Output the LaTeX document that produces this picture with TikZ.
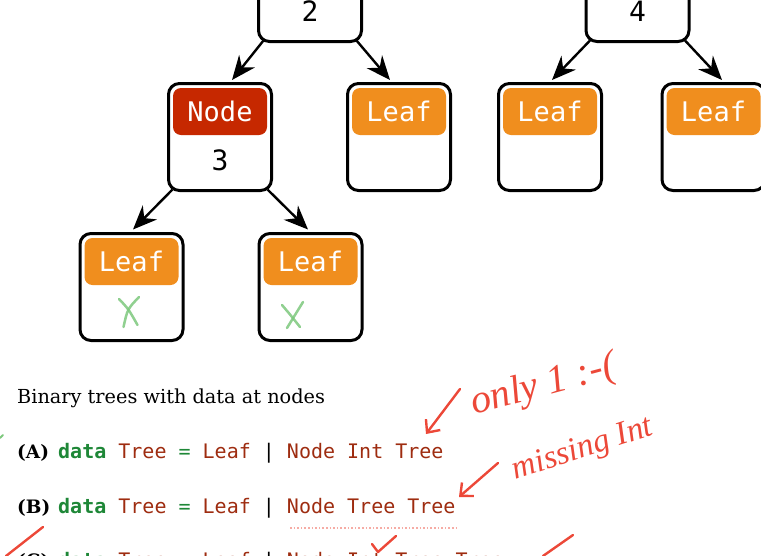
\documentclass[tikz,border=0pt]{standalone}
\usepackage{fontspec}
\setmainfont{DejaVu Serif}
\newfontfamily\boxfont{DejaVu Sans Mono}
\newfontfamily\codefont{DejaVu Sans Mono}
\newfontfamily\handfont{Liberation Serif}
\usetikzlibrary{arrows.meta,calc}

\definecolor{leaforange}{RGB}{240,142,30}
\definecolor{nodered}{RGB}{198,40,0}
\definecolor{kwgreen}{RGB}{30,135,55}
\definecolor{tyred}{RGB}{158,44,16}
\definecolor{annored}{RGB}{236,72,56}
\definecolor{xgreen}{RGB}{125,200,125}

\newcommand\kw[1]{\textcolor{kwgreen}{\textbf{#1}}}
\newcommand\kwop[1]{\textcolor{kwgreen}{#1}}
\newcommand\ty[1]{\textcolor{tyred}{#1}}

\tikzset{
  treebox/.style={draw=black, line width=3pt, rounded corners=11pt,
    minimum width=103pt, minimum height=107pt, inner sep=0pt, outer sep=0pt, fill=white},
  tag/.style={rounded corners=8pt, minimum width=94pt, minimum height=47pt,
    inner sep=0pt, text=white, font=\boxfont\fontsize{27}{27}\selectfont},
  leaftag/.style={tag, fill=leaforange},
  nodetag/.style={tag, fill=nodered},
  num/.style={inner sep=0pt, font=\boxfont\fontsize{28}{28}\selectfont},
  edge/.style={draw=black, line width=2.4pt, -{Stealth[length=24pt,width=20pt,inset=8pt]}},
  xmark/.style={draw=xgreen, line width=2.5pt, line cap=round, opacity=.85},
  caption/.style={anchor=base west, inner sep=0pt, font=\fontsize{19.3}{19.3}\selectfont},
  itemtag/.style={anchor=base west, inner sep=0pt, font=\bfseries\fontsize{18.5}{18.5}\selectfont},
  code/.style={anchor=base west, inner sep=0pt, font=\codefont\fontsize{20}{20}\selectfont},
  annot/.style={draw=annored, line width=2.4pt, line cap=round, line join=round},
  annotarrow/.style={annot, -{Straight Barb[length=10pt,width=18pt,line width=2.4pt]}},
  hand/.style={text=annored, inner sep=0pt, font=\handfont\itshape\fontsize{#1}{#1}\selectfont},
}

\begin{document}
\begin{tikzpicture}[x=1pt, y=-1pt]
\useasboundingbox (0,0) rectangle (761,555);
\clip (0,0) rectangle (761,555);

% ---- tree boxes ----
\node[treebox] (b2)  at (310,-12)   {};
\node[treebox] (b4)  at (637.5,-12) {};
\node[treebox] (n3)  at (220,137)   {};
\node[treebox] (l2r) at (399,137)   {};
\node[treebox] (l4l) at (550,137)   {};
\node[treebox] (l4r) at (713.5,137) {};
\node[treebox] (l3l) at (131.5,287) {};
\node[treebox] (l3r) at (310.5,287) {};

% ---- constructor tags and stored values ----
\node[num] (v2) at ($(b2.center)+(0,23)$) {2};
\node[num] (v4) at ($(b4.center)+(0,23)$) {4};
\node[nodetag] (n3tag) at ($(n3.center)+(0,-25.5)$) {Node};
\node[num] (v3) at ($(n3.center)+(0,23)$) {3};
\node[leaftag] (l2rtag) at ($(l2r.center)+(0,-25.5)$) {Leaf};
\node[leaftag] (l4ltag) at ($(l4l.center)+(0,-25.5)$) {Leaf};
\node[leaftag] (l4rtag) at ($(l4r.center)+(0,-25.5)$) {Leaf};
\node[leaftag] (l3ltag) at ($(l3l.center)+(0,-25.5)$) {Leaf};
\node[leaftag] (l3rtag) at ($(l3r.center)+(0,-25.5)$) {Leaf};

% ---- edges ----
\draw[edge] ($(b2.south west)+(5,-1)$) -- ($(n3.north)+(12,-3.5)$);
\draw[edge] ($(b2.south east)+(-5,-1)$) -- ($(l2r.north)+(-9,-3.5)$);
\draw[edge] ($(b4.south west)+(4,-1)$) -- ($(l4l.north)+(2,-3.5)$);
\draw[edge] ($(b4.south east)+(-4,-1)$) -- ($(l4r.north)+(8.5,-3.5)$);
\draw[edge] ($(n3.south west)+(4,-1)$) -- ($(l3l.north)+(1.5,-4)$);
\draw[edge] ($(n3.south east)+(-4,-1)$) -- ($(l3r.north)+(-2.5,-4)$);

% ---- green crosses in the empty leaves ----
\draw[xmark] ($(l3l.center)+(-12.5,12)$) .. controls ($(l3l.center)+(-3,22)$) .. ($(l3l.center)+(6,38)$);
\draw[xmark] ($(l3l.center)+(7.5,10)$) .. controls ($(l3l.center)+(-4,22)$) .. ($(l3l.center)+(-8,40)$);
\draw[xmark] ($(l3r.center)+(-28.5,18)$) .. controls ($(l3r.center)+(-20,28)$) .. ($(l3r.center)+(-10.5,40)$);
\draw[xmark] ($(l3r.center)+(-7.5,15)$) .. controls ($(l3r.center)+(-15,28)$) .. ($(l3r.center)+(-23.5,41)$);

% ---- text below ----
\node[caption] (cap) at (17,403) {Binary trees with data at nodes};
\node[itemtag] (tA) at (17,458) {(A)};
\node[code] (cA) at (58,458) {\kw{data} \ty{Tree} \kwop{=} \ty{Leaf} | \ty{Node Int Tree}};
\node[itemtag] (tB) at (17,513) {(B)};
\node[code] (cB) at (58,513) {\kw{data} \ty{Tree} \kwop{=} \ty{Leaf} | \ty{Node Tree Tree}};
\node[itemtag] (tC) at (17,567) {(C)};
\node[code] (cC) at (58,567) {\kw{data} \ty{Tree} \kwop{=} \ty{Leaf} | \ty{Node Int Tree Tree}};

% ---- red handwritten remarks ----
\node[hand=40, rotate=15] (only) at (544,386) {only 1 :-(};
\node[hand=33, rotate=18] (miss) at (583,450) {missing Int};

\coordinate (onlytail) at (460,389);
\coordinate (onlyhead) at (426,434);
\draw[annotarrow] (onlytail) -- (onlyhead);
\coordinate (misstail) at (498,463);
\coordinate (misshead) at (459,497);
\draw[annotarrow] (misstail) -- (misshead);

\coordinate (ulstart) at (290,528);
\coordinate (ulend) at (457,528);
\draw[annored, dotted, line width=1.6pt, opacity=.45] (ulstart) -- (ulend);

\coordinate (tickA) at (43,527);
\coordinate (tickB) at (6,556);
\draw[annot] (tickA) -- (tickB);
\coordinate (chk1) at (372,544);
\coordinate (chk2) at (378,552);
\coordinate (chk3) at (396,536);
\draw[annot] (chk1) -- (chk2) -- (chk3);
\coordinate (slashA) at (543,556);
\coordinate (slashB) at (573,535);
\draw[annot] (slashA) -- (slashB);

\coordinate (gdotA) at (0,438);
\coordinate (gdotB) at (3,435);
\draw[draw=xgreen, line width=2pt, line cap=round] (gdotA) -- (gdotB);
\end{tikzpicture}
\end{document}
